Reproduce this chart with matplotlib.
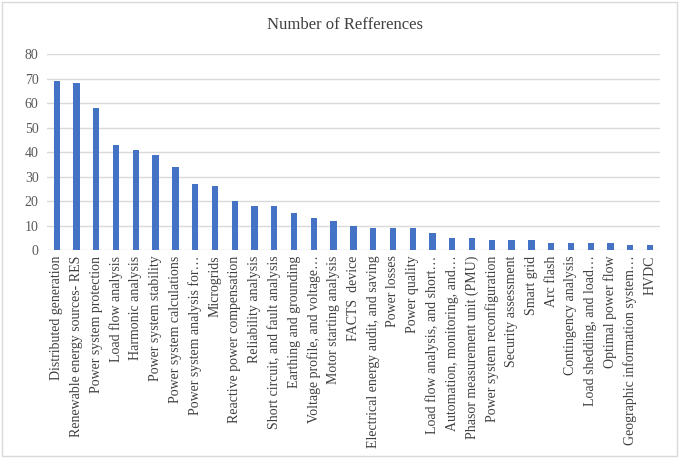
import numpy as np
import matplotlib.pyplot as plt
from matplotlib.patches import Rectangle

# categories and counts
topics = [
    'Distributed generation', 'Renewable energy sources- RES', 'Power system protection',
    'Load flow analysis', 'Harmonic analysis', 'Power system stability',
    'Power system calculations', 'Power system analysis for\u2026', 'Microgrids',
    'Reactive power compensation', 'Reliability analysis', 'Short circuit, and fault analysis',
    'Earthing and grounding', 'Voltage profile, and voltage\u2026', 'Motor starting analysis',
    'FACTS  device', 'Electrical energy audit, and saving', 'Power losses', 'Power quality',
    'Load flow analysis, and short\u2026', 'Automation, monitoring, and\u2026',
    'Phasor measurement unit (PMU)', 'Power system reconfiguration', 'Security assessment',
    'Smart grid', 'Arc flash', 'Contingency analysis', 'Load shedding, and load\u2026',
    'Optimal power flow', 'Geographic information system\u2026', 'HVDC',
]
refs = [69, 68, 58, 43, 41, 39, 34, 27, 26, 20, 18, 18, 15, 13, 12,
        10, 9, 9, 9, 7, 5, 5, 4, 4, 4, 3, 3, 3, 3, 2, 2]
yticks = [0, 10, 20, 30, 40, 50, 60, 70, 80]

plt.rcParams['font.family'] = ['Liberation Serif', 'DejaVu Serif']

fig = plt.figure(figsize=(6.79, 4.58), dpi=100)
ax = fig.add_axes([0.069, 0.454, 0.903, 0.428])

x = np.arange(len(topics))
ax.bar(x, refs, width=0.32, color='#4472C4', zorder=3)

ax.set_xlim(-0.5, len(topics) - 0.5)
ax.set_ylim(0, 80)
ax.set_yticks(yticks)
ax.set_xticks(x)
ax.set_xticklabels(topics, rotation=90, fontsize=10, color='#404040')
ax.tick_params(axis='y', labelsize=10, labelcolor='#595959', length=0, pad=6)
ax.tick_params(axis='x', length=0, pad=4)
ax.grid(axis='y', color='#d9d9d9', linewidth=1, zorder=0)
for s in ax.spines.values():
    s.set_visible(False)

fig.text(0.508, 0.945, 'Number of Refferences', ha='center', va='center',
         fontsize=12, color='#404040')

# chart border
fig.patches.append(Rectangle((0.003, 0.004), 0.994, 0.992, transform=fig.transFigure,
                             fill=False, edgecolor='#d9d9d9', linewidth=1))

fig.savefig('out.png', dpi=100)
